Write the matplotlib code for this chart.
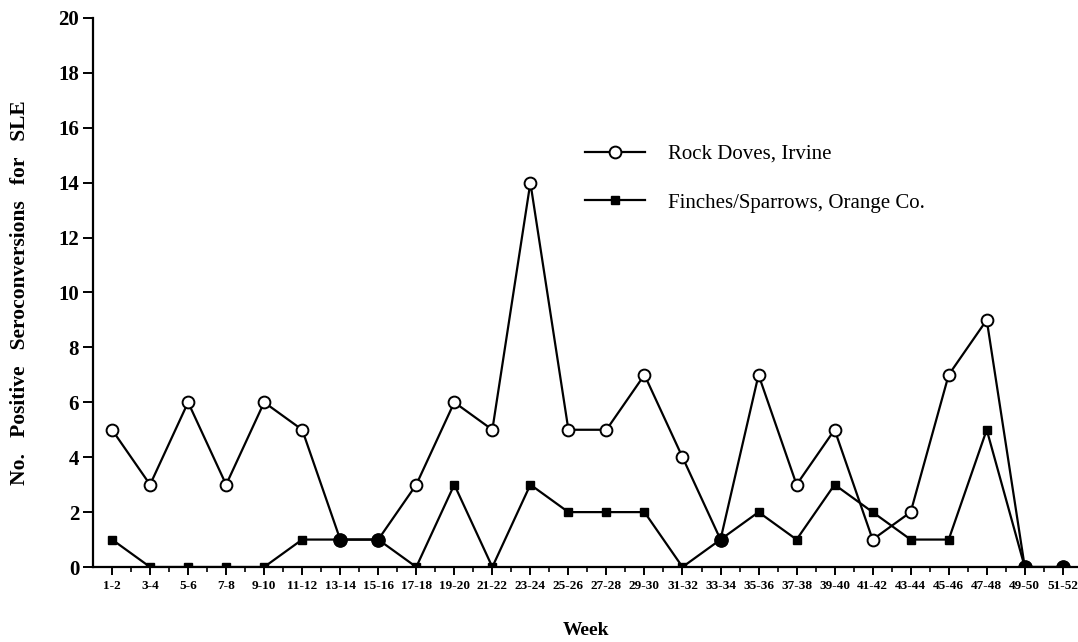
import matplotlib
matplotlib.use("Agg")
import matplotlib.pyplot as plt
import numpy as np

# Two-week periods
weeks = ["1-2", "3-4", "5-6", "7-8", "9-10", "11-12", "13-14", "15-16", "17-18",
         "19-20", "21-22", "23-24", "25-26", "27-28", "29-30", "31-32", "33-34",
         "35-36", "37-38", "39-40", "41-42", "43-44", "45-46", "47-48", "49-50", "51-52"]

# Positive SLE seroconversions per period
rock_doves = [5, 3, 6, 3, 6, 5, 1, 1, 3, 6, 5, 14, 5, 5, 7, 4, 1, 7, 3, 5, 1, 2, 7, 9, 0, 0]
finches = [1, 0, 0, 0, 0, 1, 1, 1, 0, 3, 0, 3, 2, 2, 2, 0, 1, 2, 1, 3, 2, 1, 1, 5, 0, 0]

y_ticks = list(range(0, 21, 2))

serif = "Liberation Serif"

fig = plt.figure(figsize=(10.78, 6.42), dpi=100)
ax = fig.add_axes([0.0863, 0.1168, 0.9137, 0.8552])

x = np.arange(len(weeks))

ax.plot(x, rock_doves, color="black", lw=1.6, marker="o", ms=8.5,
        mfc="white", mec="black", mew=1.4, label="Rock Doves, Irvine", zorder=3)
ax.plot(x, finches, color="black", lw=1.6, marker="s", ms=5.5,
        mfc="black", mec="black", label="Finches/Sparrows, Orange Co.", zorder=4)

# Where both series share a value the point is shown as a solid dot
rd = np.array(rock_doves)
fs = np.array(finches)
same = rd == fs
ax.scatter(x[same], rd[same], s=90, color="black", zorder=5)

ax.set_xlim(-0.5, 25.4)
ax.set_ylim(0, 20)
ax.set_xticks(x)
ax.set_xticklabels(weeks)
ax.set_xticks(x[:-1] + 0.5, minor=True)
ax.set_yticks(y_ticks)

for s in ["top", "right"]:
    ax.spines[s].set_visible(False)
for s in ["left", "bottom"]:
    ax.spines[s].set_linewidth(1.6)

ax.tick_params(axis="x", which="major", direction="out", length=6, width=1.4,
               pad=3, labelsize=9.5)
ax.tick_params(axis="x", which="minor", direction="out", length=3.5, width=1.2)
ax.tick_params(axis="y", which="major", direction="out", length=7, width=1.4,
               pad=3, labelsize=15)

for lab in ax.get_xticklabels():
    lab.set_fontfamily(serif)
    lab.set_fontweight("bold")
for lab in ax.get_yticklabels():
    lab.set_fontfamily(serif)
    lab.set_fontweight("bold")

ax.set_xlabel("Week", fontfamily=serif, fontweight="bold", fontsize=14, labelpad=22)
ax.set_ylabel("No.   Positive   Seroconversions   for   SLE", fontfamily=serif,
              fontweight="bold", fontsize=15.5, labelpad=20)

leg = ax.legend(loc="upper left", bbox_to_anchor=(0.4995, 0.770), frameon=False,
                borderpad=0, borderaxespad=0, handlelength=2.9, handletextpad=1.1,
                labelspacing=1.4, prop={"family": serif, "size": 15})

fig.savefig("out.png", dpi=100)
